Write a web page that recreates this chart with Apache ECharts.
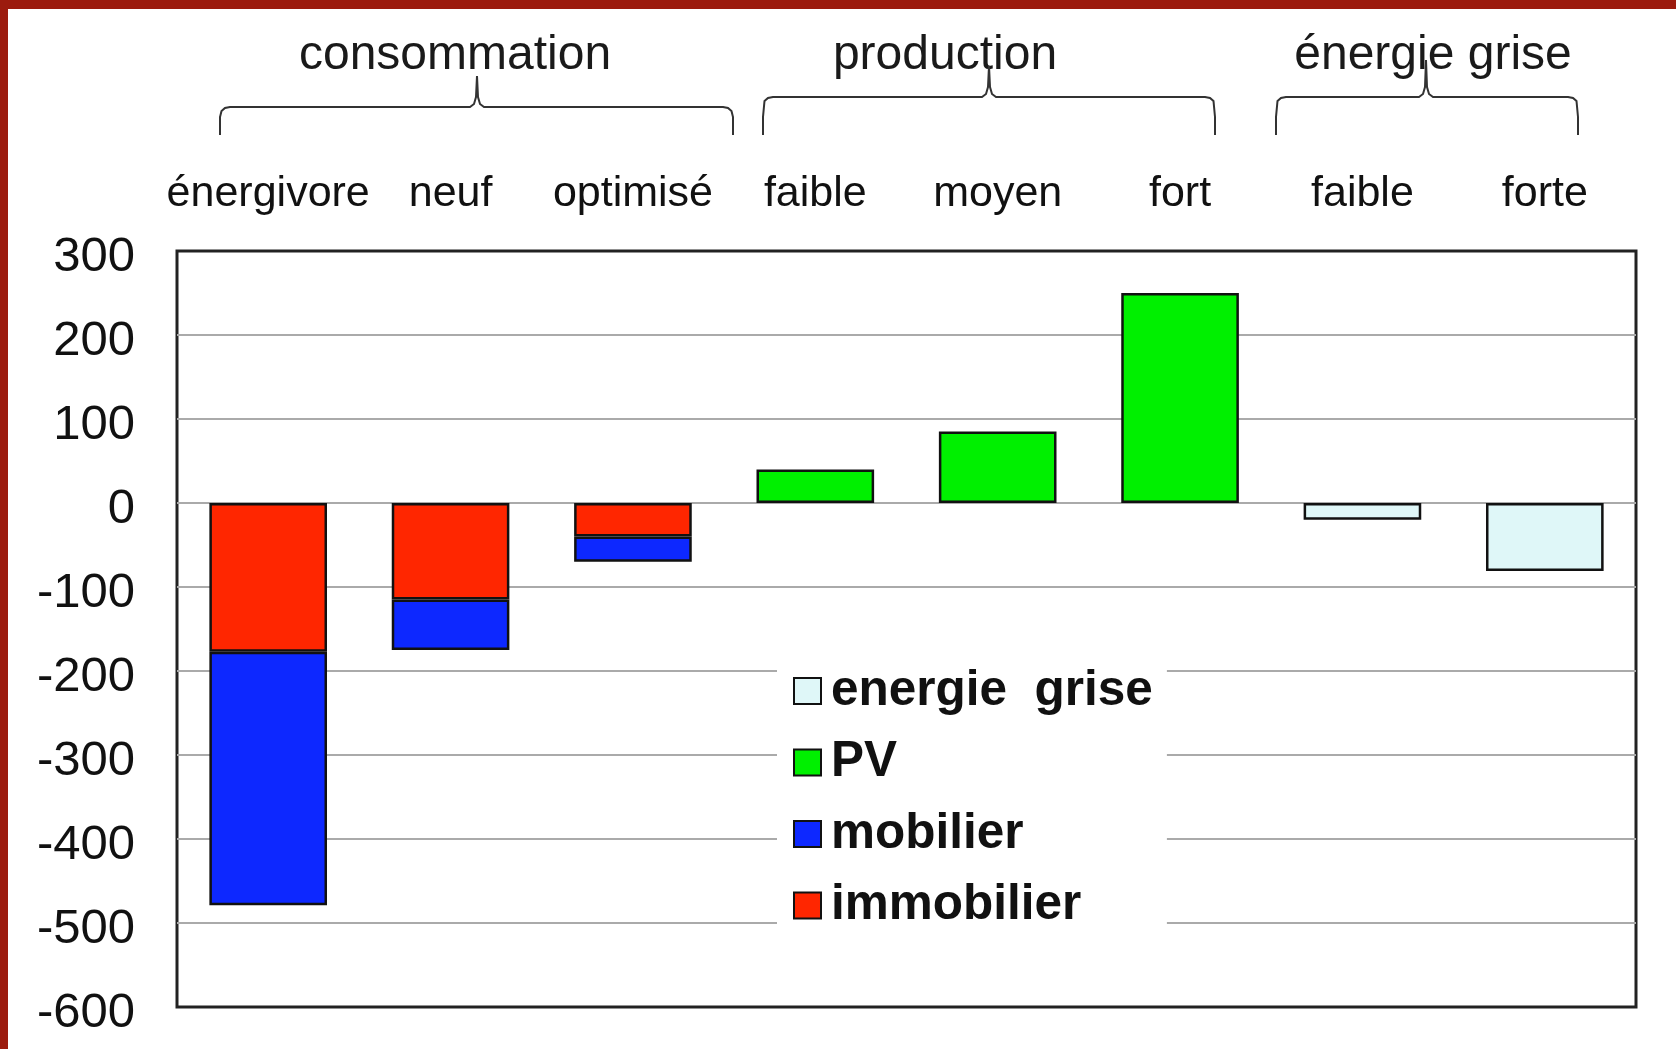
<!DOCTYPE html>
<html>
<head>
<meta charset="utf-8">
<script src="https://cdn.jsdelivr.net/npm/echarts@6/dist/echarts.min.js"></script>
<style>
  body { margin: 0; background: #fff; }
  #chart { width: 1676px; height: 1049px; }
  .edge { position: absolute; background: #9c1b0e; }
</style>
</head>
<body>
<div id="chart"></div>
<div class="edge" style="left:0;top:0;width:1676px;height:9px"></div>
<div class="edge" style="left:0;top:0;width:8px;height:1049px"></div>
<script>
const categories = ['énergivore', 'neuf', 'optimisé', 'faible', 'moyen', 'fort', 'faible', 'forte']
const groups = ['consommation', 'production', 'énergie grise']
const immobilier = [-177, -115, -40, null, null, null, null, null]
const mobilier = [-302, -60, -30, null, null, null, null, null]
const pv = [null, null, null, 40, 85, 250, null, null]
const energieGrise = [null, null, null, null, null, null, -20, -81]
const yTicks = { min: -600, max: 300, interval: 100 }

const font = "'Liberation Sans', Arial, sans-serif"
const chart = echarts.init(document.getElementById('chart'))

const bar = (name, data, color) => ({
  name,
  type: 'bar',
  stack: 'total',
  data,
  barWidth: '64.5%',
  itemStyle: { color, borderColor: '#111', borderWidth: 2.5 }
})

// curly brace drawn as a polyline: ends hang down to y=135, tip points up
const brace = (x1, x2, tip, y, top) => ({
  type: 'polyline',
  shape: {
    points: [
      [x1, 135], [x1, 117], [x1 + 1.5, y + 4], [x1 + 5, y + 1], [x1 + 10, y],
      [tip - 7, y], [tip - 3, y - 3], [tip - 1, y - 10], [tip, top],
      [tip + 1, y - 10], [tip + 3, y - 3], [tip + 7, y],
      [x2 - 10, y], [x2 - 5, y + 1], [x2 - 1.5, y + 4], [x2, 117], [x2, 135]
    ]
  },
  style: { fill: null, stroke: '#333', lineWidth: 2 }
})

const groupTitle = (text, x) => ({
  type: 'text', x, y: 56,
  style: { text, font: `48px ${font}`, fill: '#1a1a1a', align: 'center', verticalAlign: 'middle' }
})

chart.setOption({
  backgroundColor: '#fff',
  animation: false,
  grid: {
    left: 177, right: 40, top: 251, bottom: 42,
    show: true, borderColor: '#222', borderWidth: 3, backgroundColor: 'transparent'
  },
  xAxis: {
    type: 'category',
    position: 'top',
    data: categories,
    axisLine: { show: false },
    axisTick: { show: false },
    axisLabel: { fontFamily: font, fontSize: 43, color: '#111', margin: 35, interval: 0 }
  },
  yAxis: {
    type: 'value',
    min: yTicks.min, max: yTicks.max, interval: yTicks.interval,
    axisLine: { show: false },
    axisTick: { show: false },
    // labels sit a few pixels below their gridline
    axisLabel: { fontFamily: font, fontSize: 49, color: '#111', margin: 42, verticalAlign: 'top', lineHeight: 12 },
    splitLine: { showMinLine: false, showMaxLine: false, lineStyle: { color: '#aaa', width: 2 } }
  },
  legend: {
    data: ['energie  grise', 'PV', 'mobilier', 'immobilier'],
    orient: 'vertical',
    left: 777, top: 653,
    padding: [10, 14, 10, 16],
    backgroundColor: '#fff',
    itemWidth: 27, itemHeight: 26, itemGap: 15.5,
    icon: 'rect',
    textStyle: { fontFamily: font, fontSize: 49.5, fontWeight: 'bold', color: '#111', lineHeight: 56, padding: [0, 0, 0, 5] }
  },
  graphic: [
    groupTitle(groups[0], 455),
    groupTitle(groups[1], 945),
    groupTitle(groups[2], 1433),
    brace(220, 733, 477, 107, 76),
    brace(763, 1215, 989, 97, 66),
    brace(1276, 1578, 1426, 97, 60)
  ],
  series: [
    bar('immobilier', immobilier, '#ff2600'),
    bar('mobilier', mobilier, '#0d28ff'),
    bar('PV', pv, '#00f000'),
    bar('energie  grise', energieGrise, '#dff7f8')
  ]
})
</script>
</body>
</html>
